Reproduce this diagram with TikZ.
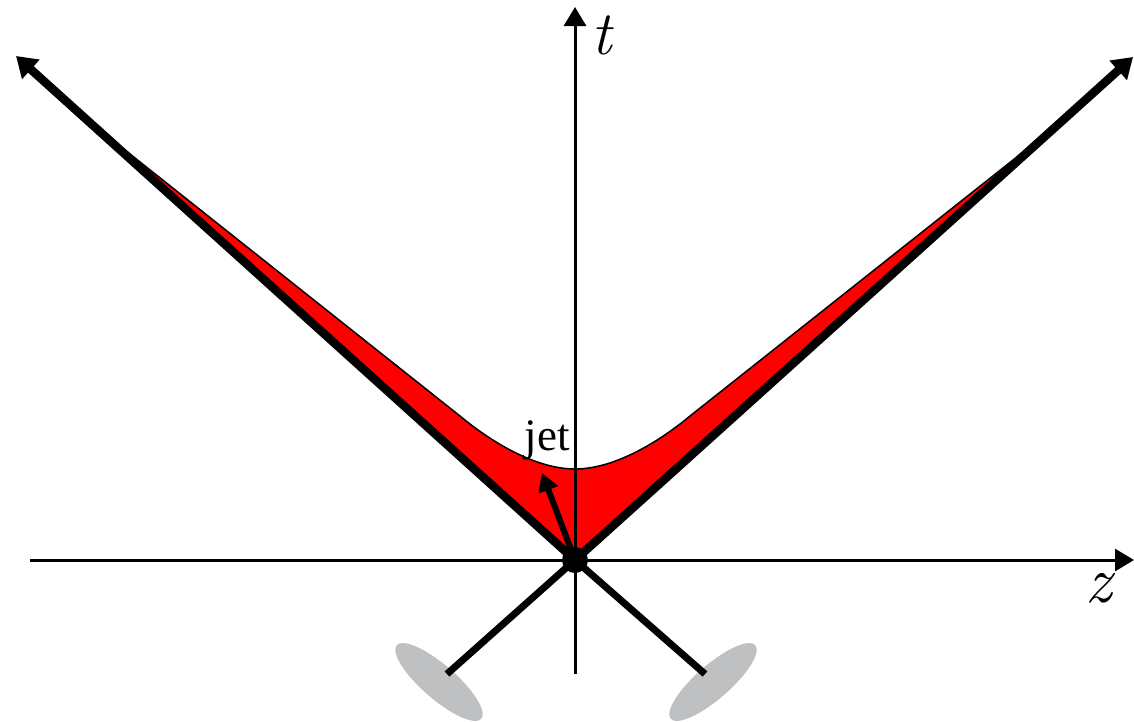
\documentclass[tikz,border=0pt]{standalone}
\usepackage{fontspec}
\newfontfamily\jetfont{Liberation Serif}
\usetikzlibrary{arrows.meta,calc}
\definecolor{conered}{RGB}{255,0,0}
\definecolor{ellgray}{RGB}{190,192,193}
\begin{document}
\begin{tikzpicture}[x=1pt,y=-1pt,
  axisline/.style={line width=3pt,-{Triangle[length=19pt,width=22pt]}},
  conearrow/.style={line width=8.5pt,-{Triangle[length=20pt,width=25pt]}},
  jetarrow/.style={line width=6pt,-{Triangle[length=18pt,width=20pt]}},
  legline/.style={line width=7pt},
  detector/.style={fill=ellgray},
  edge/.style={line width=1.5pt,line join=round},
  lbl/.style={inner sep=0pt}]
\useasboundingbox (0,0) rectangle (1134,721);
% key points
\coordinate (O) at (575,560);
\coordinate (Ltip) at (16,56);
\coordinate (Rtip) at (1133,57);
\coordinate (Lm) at ($(O)!0.875!(Ltip)$);
\coordinate (Rm) at ($(O)!0.87!(Rtip)$);
\coordinate (Lb) at (460,416);
\coordinate (Rb) at (690,416);
\coordinate (Mid) at (575,469);
\coordinate (Tbot) at (575,674);
\coordinate (Ttop) at (575,7);
\coordinate (Zl) at (30,560);
\coordinate (Zr) at (1134,560);
\coordinate (LL) at (447,674);
\coordinate (RL) at (705,674);
\coordinate (JetTip) at (542,473);
% red region
\fill[conered] (O) -- (Lm) -- (Lb) .. controls (490,441) and (535,469) .. (Mid)
  .. controls (615,469) and (660,441) .. (Rb) -- (Rm) -- cycle;
\draw[edge] (Lm) -- (Lb) .. controls (490,441) and (535,469) .. (Mid)
  .. controls (615,469) and (660,441) .. (Rb) -- (Rm);
% detectors
\fill[detector, rotate around={-41:(439,682)}] (439,682) ellipse [x radius=56, y radius=17];
\fill[detector, rotate around={41:(713,682)}] (713,682) ellipse [x radius=56, y radius=17];
% axes
\draw[axisline] (Tbot) -- (Ttop);
\draw[axisline] (Zl) -- (Zr);
% cone lines
\draw[conearrow] (O) -- (Ltip);
\draw[conearrow] (O) -- (Rtip);
% legs
\draw[legline] (O) -- (LL);
\draw[legline] (O) -- (RL);
% jet
\draw[jetarrow] (O) -- (JetTip);
\fill (O) circle (13);
% labels
\node[lbl, font=\fontsize{62}{62}\selectfont\itshape] (tlabel) at (602,35) {t};
\node[lbl, font=\fontsize{66}{66}\selectfont\itshape] (zlabel) at (1099,588) {z};
\node[lbl, anchor=base, font=\jetfont\fontsize{45}{45}\selectfont] (jetlabel) at (547,450) {jet};
\end{tikzpicture}
\end{document}
